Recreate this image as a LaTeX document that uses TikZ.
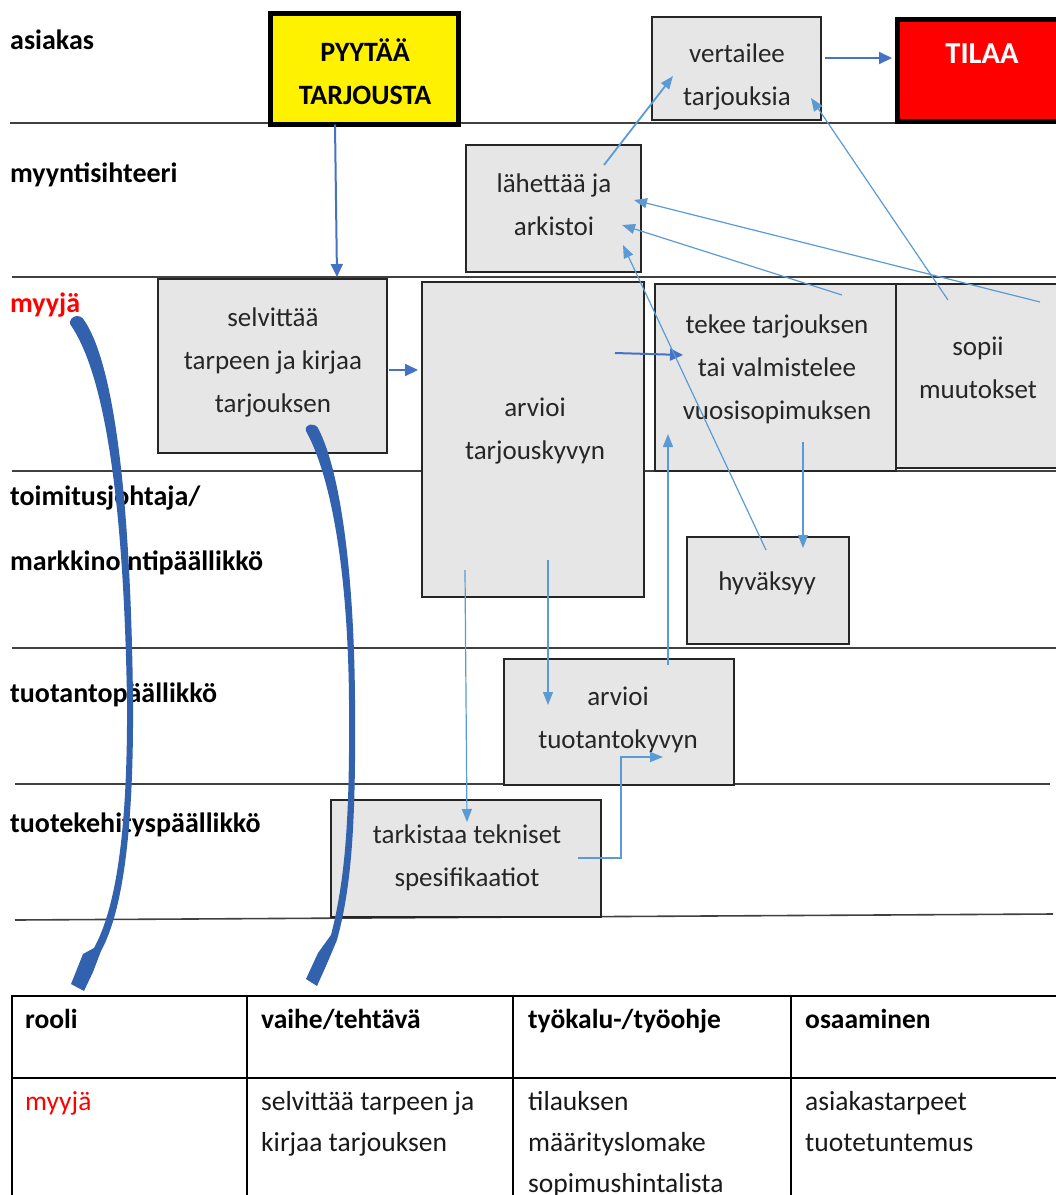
\documentclass[tikz,border=0pt]{standalone}
\usepackage{fontspec}
\setmainfont{Carlito}
\usetikzlibrary{arrows.meta,calc}
\definecolor{boxgray}{HTML}{E6E6E6}
\definecolor{linkdark}{HTML}{4472C4}
\definecolor{linklight}{HTML}{5B9BD5}
\definecolor{curveblue}{HTML}{3262AE}
\definecolor{lanered}{HTML}{FF0000}
\begin{document}
\begin{tikzpicture}[x=1pt,y=-1pt,
  lane/.style={draw=black!75, line width=1.6pt},
  box/.style={draw=black!85, line width=1.5pt, fill=boxgray, inner sep=0pt, outer sep=0pt},
  boxtext/.style={font=\fontsize{27}{43}\selectfont, text=black!85, align=center, inner sep=0pt},
  boldtext/.style={font=\fontsize{28}{43}\selectfont\bfseries, text=black, align=center, inner sep=0pt},
  lanelab/.style={font=\fontsize{28}{33}\selectfont\bfseries, anchor=base west, inner sep=0pt},
  headcell/.style={font=\fontsize{27.5}{41}\selectfont\bfseries, text=black, anchor=base west, inner sep=0pt},
  cell/.style={font=\fontsize{27.5}{41}\selectfont, text=black!90, anchor=north west, align=left, inner sep=0pt},
  thin/.style={draw=linklight, line width=1.2pt, -{Triangle[length=13pt,width=10pt]}},
  medium/.style={draw=linkdark, line width=2pt, -{Triangle[length=13pt,width=12pt]}},
  curvefill/.style={fill=curveblue},
]
\clip (0,0) rectangle (1056,1195);
\fill[white] (0,0) rectangle (1056,1195);

% swimlane separators
\draw[lane] (10,123) -- (1056,123);
\draw[lane] (12,277) -- (1056,277);
\draw[lane] (12,471) -- (1056,471);
\draw[lane] (12,648) -- (1056,648);
\draw[lane] (15,784) -- (1050,784);
\draw[lane] (15,920) -- (1053,914);

% lane labels
\node[lanelab] (l-asiakas) at (10,49) {asiakas};
\node[lanelab] (l-sihteeri) at (10,182) {myyntisihteeri};
\node[lanelab, text=lanered] (l-myyja) at (10,312) {myyjä};
\node[lanelab] (l-tj) at (10,505) {toimitusjohtaja/};
\node[lanelab] (l-mp) at (10,570) {markkinointipäällikkö};
\node[lanelab] (l-tp) at (10,702) {tuotantopäällikkö};
\node[lanelab] (l-tk) at (10,832) {tuotekehityspäällikkö};

% boxes
\node[box, draw=black, line width=5pt, fill=yellow, minimum width=188pt, minimum height=111pt] (pyy) at (364.5,69) {};
\node[box, minimum width=169pt, minimum height=103pt] (ver) at (736.5,68.5) {};
\node[box, draw=black, line width=5pt, fill=red, minimum width=177.5pt, minimum height=102pt] (tilaa) at (986.25,70.5) {};
\node[box, minimum width=175pt, minimum height=127pt] (lah) at (553.5,208.5) {};
\node[box, minimum width=229pt, minimum height=174pt] (sel) at (272.5,366) {};
\node[box, minimum width=222pt, minimum height=315pt] (arv) at (533,439.5) {};
\node[box, minimum width=241pt, minimum height=187pt] (tek) at (775.5,377.5) {};
\node[box, minimum width=174pt, minimum height=184pt] (sop) at (983,376) {};
\node[box, minimum width=162pt, minimum height=107pt] (hyv) at (768,590.5) {};
\node[box, minimum width=230pt, minimum height=126pt] (tuo) at (619,722) {};
\node[box, minimum width=270pt, minimum height=117pt] (tar) at (466,858.5) {};

% box texts
\node[boldtext] (pyy-t) at (365,72) {PYYTÄÄ\\TARJOUSTA};
\node[boxtext] (ver-t) at (737,77) {vertailee\\tarjouksia};
\node[boldtext, font=\fontsize{30.5}{34}\selectfont\bfseries, text=white] (tilaa-t) at (982,54) {TILAA};
\node[boxtext] (lah-t) at (554,204.5) {lähettää ja\\arkistoi};
\node[boxtext] (sel-t) at (273,362) {selvittää\\tarpeen ja kirjaa\\tarjouksen};
\node[boxtext] (arv-t) at (535,431.5) {arvioi\\tarjouskyvyn};
\node[boxtext] (tek-t) at (777,369.5) {tekee tarjouksen\\tai valmistelee\\vuosisopimuksen};
\node[boxtext] (sop-t) at (978,368) {sopii\\muutokset};
\node[boxtext] (hyv-t) at (767,583) {hyväksyy};
\node[boxtext] (tuo-t) at (618,719.5) {arvioi\\tuotantokyvyn};
\node[boxtext] (tar-t) at (467,858) {tarkistaa tekniset\\spesifikaatiot};

% connectors
\draw[medium] ($(pyy.south west)+(64.5,0)$) -- ($(sel.north west)+(179,-2)$);
\draw[medium] ($(sel.north east)+(2,91)$) -- ($(arv.north west)+(-4,88)$);
\draw[medium] ($(arv.north west)+(193,71)$) -- ($(tek.north west)+(28,71)$);
\draw[thin, line width=1.8pt] ($(lah.north west)+(138,20)$) -- ($(ver.north west)+(21,59)$);
\draw[medium] ($(ver.north east)+(4,41)$) -- ($(tilaa.north west)+(-5.5,38.5)$);
\draw[thin] ($(sop.north west)+(52,16)$) -- ($(ver.north west)+(159,81)$);
\draw[thin] ($(sop.north west)+(144,18)$) -- ($(lah.north west)+(168,55)$);
\draw[thin] ($(tek.north west)+(187,11)$) -- ($(lah.north west)+(156,80)$);
\draw[thin] ($(hyv.north west)+(79,13)$) -- ($(lah.north west)+(157,100)$);
\draw[thin] ($(tek.north west)+(148,158)$) -- ($(hyv.north west)+(116,11)$);
\draw[thin] ($(tuo.north west)+(164,6)$) -- ($(tek.north west)+(13,150)$);
\draw[thin] ($(arv.north west)+(126,278)$) -- ($(tuo.north west)+(44,46)$);
\draw[thin] ($(arv.north west)+(43,288)$) -- ($(tar.north west)+(136,22)$);
\draw[thin] ($(tar.north west)+(247,58)$) -- ++(43,0) |- ($(tuo.north west)+(159,98)$);

% thick curved arrows to the table
\coordinate (c1s) at (70,324);
\coordinate (c1e) at (84,991);
\fill[curvefill] (c1s) .. controls (108,378) and (124,520) .. (127,700)
  .. controls (128,850) and (112,915) .. (94,948)
  -- (83,954) -- (71,984) -- (c1e) -- (93,972) -- (101,951)
  .. controls (119,918) and (134,850) .. (133,700)
  .. controls (131,520) and (117,368) .. (84,320)
  .. controls (80,313) and (69,316) .. (c1s) -- cycle;
\coordinate (c2s) at (306,431);
\coordinate (c2e) at (317,986);
\fill[curvefill] (c2s) .. controls (333,480) and (348,580) .. (349,700)
  .. controls (350,820) and (345,880) .. (331,935)
  -- (318,953) -- (306,979) -- (c2e) -- (326,966) -- (337,940)
  .. controls (352,885) and (356,820) .. (355,700)
  .. controls (354,570) and (340,470) .. (318,428)
  .. controls (314,422) and (304,424) .. (c2s) -- cycle;

% table
\draw[line width=2pt] (12,996) rectangle (1075,1210);
\draw[line width=2.5pt] (12,1078) -- (1075,1078);
\draw[line width=1.6pt] (247,996) -- (247,1210);
\draw[line width=1.6pt] (513,996) -- (513,1210);
\draw[line width=1.6pt] (791,996) -- (791,1210);
\node[headcell] (h-rooli) at (25,1028) {rooli};
\node[headcell] (h-vaihe) at (261,1028) {vaihe/tehtävä};
\node[headcell] (h-tyokalu) at (528,1028) {työkalu-/työohje};
\node[headcell] (h-osaaminen) at (805,1028) {osaaminen};
\node[cell, text=lanered] (r-rooli) at (25,1091) {myyjä};
\node[cell] (r-vaihe) at (261,1091) {selvittää tarpeen ja\\kirjaa tarjouksen};
\node[cell] (r-tyokalu) at (528,1091) {tilauksen\\määrityslomake\\sopimushintalista};
\node[cell] (r-osaaminen) at (805,1091) {asiakastarpeet\\tuotetuntemus};
\end{tikzpicture}
\end{document}
